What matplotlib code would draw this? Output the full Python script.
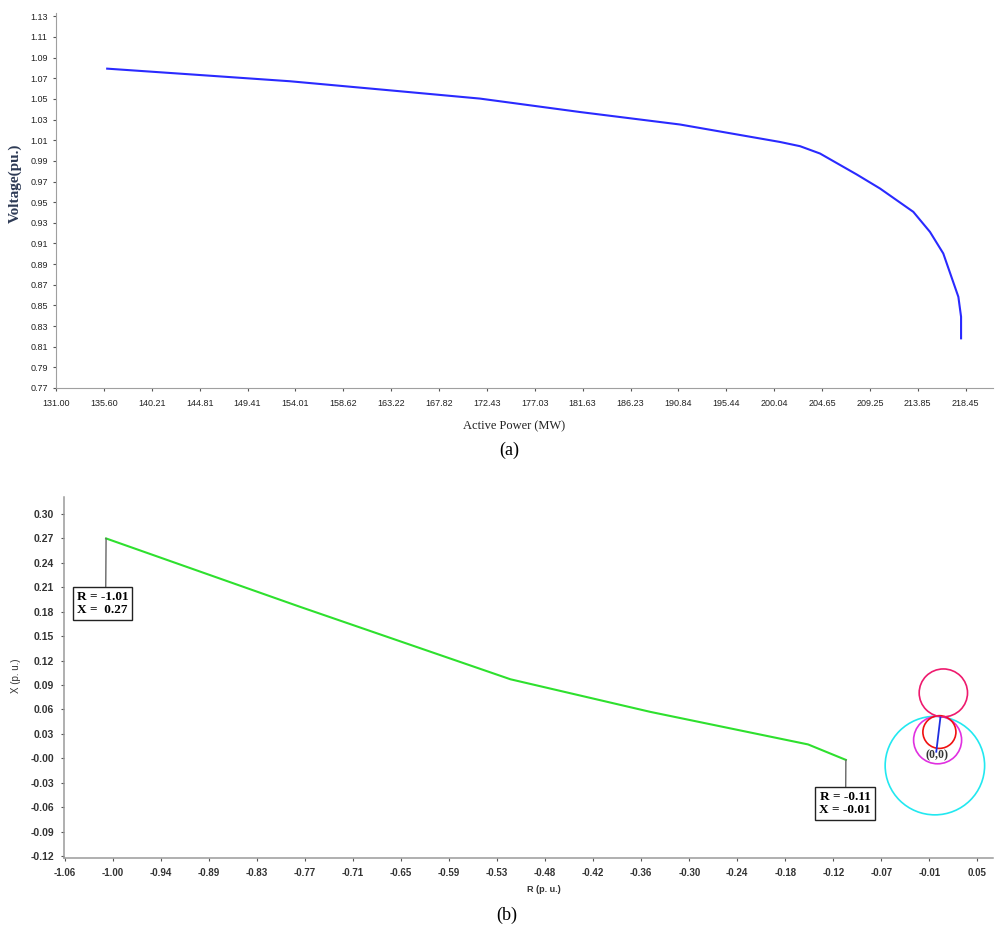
import matplotlib
matplotlib.use("Agg")
import matplotlib.pyplot as plt
from matplotlib.patches import Circle
import numpy as np

# ---- (a) P-V curve ----
power_mw = [135.92, 143.87, 153.49, 163.10, 171.76, 181.37, 190.99, 200.60, 202.53,
            204.45, 207.98, 210.22, 213.42, 215.02, 216.30, 217.75, 218.01, 218.01]
voltage_pu = [1.0793, 1.0738, 1.0671, 1.0583, 1.0503, 1.0373, 1.0252, 1.0083, 1.0042,
              0.9971, 0.9768, 0.9632, 0.9406, 0.9212, 0.9003, 0.8583, 0.8390, 0.8181]
p_tick_labels = ["131.00", "135.60", "140.21", "144.81", "149.41", "154.01", "158.62",
                 "163.22", "167.82", "172.43", "177.03", "181.63", "186.23", "190.84",
                 "195.44", "200.04", "204.65", "209.25", "213.85", "218.45"]
v_tick_labels = ["%.2f" % v for v in np.arange(0.77, 1.1301, 0.02)]

# ---- (b) impedance trajectory ----
r_traj = [-1.01, -0.774, -0.518, -0.348, -0.156, -0.11]
x_traj = [0.27, 0.186, 0.097, 0.057, 0.017, -0.002]
r_tick_labels = ["-1.06", "-1.00", "-0.94", "-0.89", "-0.83", "-0.77", "-0.71", "-0.65",
                 "-0.59", "-0.53", "-0.48", "-0.42", "-0.36", "-0.30", "-0.24", "-0.18",
                 "-0.12", "-0.07", "-0.01", "0.05"]
x_tick_labels = ["-0.12", "-0.09", "-0.06", "-0.03", "-0.00", "0.03", "0.06", "0.09",
                 "0.12", "0.15", "0.18", "0.21", "0.24", "0.27", "0.30"]
# relay characteristic circles: (R centre, X centre, radius, colour)
circle_r = [-0.0017, 0.0016, 0.0038, 0.0086]
circle_x = [-0.009, 0.0224, 0.0322, 0.0803]
circle_rad = [0.0605, 0.0292, 0.0201, 0.0294]
circle_colors = ["#22e8f0", "#e030e0", "#f01010", "#ee1a6e"]
line_r = [0.0, 0.005]
line_x = [0.008, 0.05]

fig = plt.figure(figsize=(9.98, 9.31), dpi=100)
serif = "Liberation Serif"
sans = "Liberation Sans"

# ---------------- top chart ----------------
ax1 = fig.add_axes([56 / 998, 1 - 388 / 931, 937 / 998, 375 / 931])
ax1.plot(power_mw, voltage_pu, color="#2a2aff", linewidth=1.5)
ax1.set_xlim(131.0, 221.08)
ax1.set_ylim(0.77, 1.1332)
ax1.set_xticks(np.linspace(131.0, 218.45, len(p_tick_labels)))
ax1.set_xticklabels(p_tick_labels, fontsize=6.5, family=sans, color="#222222")
ax1.set_yticks(np.linspace(0.77, 1.13, len(v_tick_labels)))
ax1.set_yticklabels(v_tick_labels, fontsize=6.5, family=sans, color="#222222")
for s in ["top", "right"]:
    ax1.spines[s].set_visible(False)
for s in ["left", "bottom"]:
    ax1.spines[s].set_color("#a0a0a0")
ax1.tick_params(length=2, width=0.8, color="#555555", pad=6)
ax1.tick_params(axis="y", pad=4)
ax1.set_xlabel("Active Power (MW)", family=serif, fontsize=9, color="#222222")
ax1.xaxis.set_label_coords(0.489, -0.085)
ax1.set_ylabel("Voltage(pu.)", family=serif, fontsize=11, fontweight="bold", color="#2d3a55")
ax1.yaxis.set_label_coords(-0.036, 0.547)

fig.text(0.510, 1 - 450 / 931, "(a)", family=serif, fontsize=13, ha="center", va="center")

# ---------------- bottom chart ----------------
ax2 = fig.add_axes([64 / 998, 1 - 858 / 931, 929 / 998, 361 / 931])
ax2.plot(r_traj, x_traj, color="#2ee02e", linewidth=1.5)
for cr, cx, rad, col in zip(circle_r, circle_x, circle_rad, circle_colors):
    ax2.add_patch(Circle((cr, cx), rad, fill=False, edgecolor=col, linewidth=1.2))
ax2.plot(line_r, line_x, color="#1f2fe0", linewidth=1.3)
ax2.text(0.0005, 0.0035, "(0,0)", family=serif, fontsize=8.5, fontweight="bold",
         color="#333333", ha="center", va="center")

ax2.set_xlim(-1.0612, 0.069)
ax2.set_ylim(-0.1225, 0.3209)
ax2.set_xticks(np.linspace(-1.06, 0.05, len(r_tick_labels)))
ax2.set_xticklabels(r_tick_labels, fontsize=7, family=sans, fontweight="bold", color="#333333")
ax2.set_yticks(np.linspace(-0.12, 0.30, len(x_tick_labels)))
ax2.set_yticklabels(x_tick_labels, fontsize=7.5, family=sans, fontweight="bold", color="#333333")
for s in ["top", "right"]:
    ax2.spines[s].set_visible(False)
for s in ["left", "bottom"]:
    ax2.spines[s].set_color("#9a9a9a")
    ax2.spines[s].set_linewidth(1.1)
ax2.tick_params(length=2, width=0.8, color="#555555", pad=5)
ax2.set_xlabel("R (p. u.)", family=sans, fontsize=6.5, fontweight="bold", color="#333333")
ax2.xaxis.set_label_coords(0.517, -0.075)
ax2.set_ylabel("X (p. u.)", family=sans, fontsize=7, color="#333333")
ax2.yaxis.set_label_coords(-0.046, 0.504)

box = dict(boxstyle="square,pad=0.3", facecolor="white", edgecolor="#222222", linewidth=1.0)
ax2.annotate("R = -1.01\nX =  0.27", xy=(r_traj[0], x_traj[0]), xytext=(-2.5, -46.8),
             textcoords="offset points", ha="center", va="center", family=serif,
             fontweight="bold", fontsize=9.5, linespacing=1.05, bbox=box,
             arrowprops=dict(arrowstyle="-", color="#666666", lw=1.0, relpos=(0.56, 1.0),
                             shrinkA=0, shrinkB=0))
ax2.annotate("R = -0.11\nX = -0.01", xy=(r_traj[-1], x_traj[-1]), xytext=(-0.5, -31.5),
             textcoords="offset points", ha="center", va="center", family=serif,
             fontweight="bold", fontsize=9.5, linespacing=1.05, bbox=box,
             arrowprops=dict(arrowstyle="-", color="#666666", lw=1.0, relpos=(0.51, 1.0),
                             shrinkA=0, shrinkB=0))

fig.text(0.508, 1 - 915 / 931, "(b)", family=serif, fontsize=13, ha="center", va="center")

fig.savefig("out.png", dpi=100)
